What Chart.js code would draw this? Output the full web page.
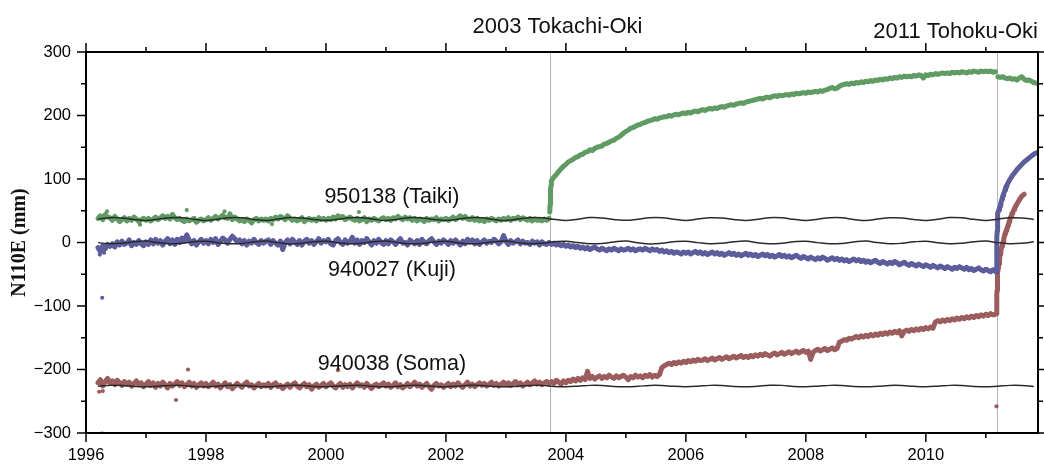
<!DOCTYPE html>
<html>
<head>
<meta charset="utf-8">
<script src="https://cdn.jsdelivr.net/npm/chart.js@4.4.1/dist/chart.umd.min.js"></script>
<style>
  html, body { margin: 0; padding: 0; background: #fff; }
  #wrap { width: 1044px; height: 464px; }
</style>
</head>
<body>
<div id="wrap"><canvas id="gps" width="1044" height="464"></canvas></div>
<script>
// GPS N110E component, decimal years, sampled every 0.04 yr
const step = 0.04;
const startA = 1996.20;   // first epoch
const startB = 2003.76;   // first epoch after Tokachi-Oki
const startC = 2011.20;   // first epoch after Tohoku-Oki

const quakeYears = [2003.73, 2011.18];
const quakeNames = ['2003 Tokachi-Oki', '2011 Tohoku-Oki'];
const stationNames = ['950138 (Taiki)', '940027 (Kuji)', '940038 (Soma)'];
const stationColors = ['#619b64', '#5d5d9c', '#9b5d5d'];

// ---- 950138 Taiki ----
const taikiA = [
  38,42,36,44,40,39,35,41,37,33,36,39,34,38,35,40,37,33,36,38,
  35,38,34,37,40,36,39,42,38,41,37,44,39,36,38,35,33,37,34,36,38,32,35,37,34,
  36,39,35,38,41,37,40,43,39,38,45,36,40,37,34,36,33,37,35,31,36,38,34,37,35,
  37,34,38,36,40,37,41,39,36,42,38,35,37,34,36,39,33,36,38,35,37,34,39,36,38,
  35,38,36,40,37,42,39,41,36,38,40,37,35,38,34,36,39,33,37,35,38,36,34,37,39,
  36,38,35,39,37,41,38,36,40,37,39,35,38,34,37,36,33,38,35,37,36,39,34,37,36,
  38,35,37,40,36,39,42,38,41,37,36,39,35,38,34,36,33,37,35,38,36,34,37,35,38,
  36,39,35,38,37,40,36,39,37,35,38,34,37,35,36,34,37,35,38
];
const taikiB = [
  97,103,107,112,116,120,
  123,127,129,131,134,135,138,139,142,143,146,145,148,150,151,152,155,156,158,160,161,164,166,169,172,
  175,177,180,181,183,185,186,188,189,191,192,193,195,194,196,197,198,198,200,199,201,202,201,203,204,
  203,205,204,206,207,206,208,209,208,210,211,210,212,211,213,214,213,215,216,217,216,218,219,220,219,
  221,222,223,224,225,226,227,226,228,229,228,230,231,230,232,231,232,233,232,234,233,235,234,235,236,
  235,237,236,237,238,237,239,238,240,241,243,244,242,243,246,248,249,250,249,251,250,252,251,253,252,
  254,253,255,254,256,255,257,256,258,257,259,258,260,259,261,260,262,261,262,261,263,262,264,263,259,
  264,263,265,264,266,265,266,267,266,267,266,268,267,268,267,269,268,267,269,268,270,269,268,270,269,
  270,269,270,268,269
];
const taikiC = [261,260,261,259,258,259,257,258,256,259,261,257,255,256,254,252,251];
const taikiJumpYears = [2003.732,2003.736,2003.740,2003.744,2003.748,2003.752,2003.756];
const taikiJumpVals = [48,60,70,78,85,90,94];
const taikiOutlierYears = [1996.35,1997.68,1998.31,2000.55,1996.90,1999.10];
const taikiOutlierVals = [49,51,49,48,28,29];

// ---- 940027 Kuji ----
const kujiA = [
  -8,-14,-5,-10,-3,-6,-2,-7,1,-4,2,-3,-1,4,-5,0,-3,3,-2,-5,
  1,-3,4,-2,5,-1,3,-4,2,6,-2,4,-3,5,0,7,2,12,4,-2,3,-4,1,5,-1,
  3,-2,5,0,6,-3,2,7,4,-1,5,10,6,1,4,-2,3,-4,2,-1,5,0,-3,3,-1,
  2,4,-3,3,-1,-4,2,-11,0,4,-2,5,1,-3,3,-4,2,5,-1,3,-3,1,6,-1,3,
  1,5,-2,-4,3,6,0,-3,4,-1,2,8,-1,4,-3,3,0,6,1,-4,3,-1,5,0,-3,
  3,-2,4,1,-3,2,6,-1,0,-4,4,1,-2,3,-3,5,0,-2,3,6,1,-3,2,-1,4,
  1,-3,3,-1,4,0,-4,2,-2,5,1,4,-2,3,-3,1,4,-1,2,0,5,2,-2,1,11,
  2,-3,3,-1,1,4,-2,2,-1,0,-3,2,-1,1,-4,1,-2,-3,0
];
const kujiB = [
  -3,-1,-4,-2,-5,-3,
  -6,-4,-7,-5,-8,-6,-9,-7,-10,-8,-11,-9,-7,-10,-12,-9,-11,-13,-10,-12,-9,-11,-13,-10,-12,
  -11,-9,-12,-10,-13,-11,-10,-12,-9,-11,-13,-10,-12,-11,-14,-12,-15,-13,-16,-14,-17,-15,-16,-18,-15,
  -17,-15,-18,-16,-14,-17,-15,-18,-16,-19,-17,-15,-18,-16,-19,-17,-20,-18,-16,-19,-17,-20,-18,-21,-19,
  -17,-20,-18,-21,-19,-22,-20,-18,-21,-19,-22,-20,-23,-21,-19,-22,-20,-23,-21,-24,-22,-20,-23,-25,-22,
  -24,-26,-23,-25,-27,-24,-26,-23,-25,-28,-26,-24,-27,-25,-28,-26,-29,-27,-30,-28,-26,-29,-27,-30,-28,
  -31,-29,-32,-30,-28,-31,-33,-30,-32,-34,-31,-33,-30,-32,-35,-33,-31,-34,-36,-33,-35,-37,-34,-36,-38,
  -35,-37,-39,-36,-38,-40,-37,-39,-41,-38,-40,-42,-39,-41,-38,-40,-42,-39,-43,-41,-44,-42,-40,-43,-45,
  -42,-44,-46,-43,-45
];
const kujiC = [46,58,72,83,92,99,105,110,115,119,123,127,130,133,136,139,141];
const kujiJumpYears = [2011.178,2011.180,2011.183,2011.186,2011.190,2011.193,2011.197,
  2011.21,2011.22,2011.23,2011.25,2011.26,2011.27,2011.29,2011.30,2011.31,2011.33,2011.34,2011.35];
const kujiJumpVals = [-47,-16,-2,8,18,27,36, 49,52,55,62,65,69,75,78,80,86,88,90];
const kujiOutlierYears = [1996.27,1996.23,1996.30];
const kujiOutlierVals = [-87,-19,-16];

// ---- 940038 Soma ----
const somaA = [
  -221,-216,-226,-219,-214,-222,-218,-224,-217,-221,-225,-219,-223,-220,-226,-222,-218,-224,-221,-227,
  -223,-219,-225,-221,-228,-222,-226,-220,-224,-229,-222,-226,-223,-219,-225,-221,-227,-224,-220,-226,-222,-228,-224,-221,-226,
  -222,-227,-224,-220,-226,-223,-229,-225,-221,-227,-224,-230,-226,-222,-225,-228,-223,-220,-226,-224,-229,-225,-222,-227,-224,
  -226,-222,-228,-224,-221,-227,-225,-230,-226,-223,-228,-224,-221,-226,-229,-225,-222,-227,-224,-231,-226,-223,-228,-225,-222,
  -227,-224,-221,-226,-229,-225,-222,-228,-224,-227,-223,-229,-225,-221,-226,-224,-228,-222,-226,-230,-225,-223,-227,-224,-221,
  -226,-223,-228,-225,-221,-227,-224,-229,-226,-222,-227,-224,-220,-226,-223,-228,-225,-222,-227,-231,-225,-222,-226,-224,-228,
  -225,-222,-227,-223,-226,-221,-225,-228,-224,-220,-226,-223,-227,-224,-221,-225,-222,-226,-223,-220,-225,-222,-226,-223,-220,
  -224,-221,-225,-222,-219,-224,-221,-226,-223,-220,-224,-221,-218,-223,-220,-224,-221,-219,-222
];
const somaB = [
  -219,-222,-217,-220,-223,-218,
  -221,-217,-219,-215,-218,-214,-217,-213,-216,-203,-214,-211,-215,-212,-210,-214,-211,-213,-209,-212,-214,-210,-213,-211,-209,
  -212,-216,-211,-213,-209,-212,-210,-213,-209,-211,-208,-212,-209,-211,-208,-197,-194,-192,-190,-192,-189,-191,-188,-190,-187,
  -189,-186,-188,-185,-187,-184,-186,-185,-183,-186,-184,-182,-185,-183,-181,-184,-182,-180,-183,-181,-179,-182,-180,-178,-181,
  -179,-181,-178,-180,-177,-179,-176,-178,-175,-177,-179,-176,-174,-177,-175,-173,-176,-174,-172,-175,-173,-171,-174,-172,-170,
  -173,-171,-184,-173,-170,-168,-171,-169,-167,-170,-168,-166,-169,-167,-157,-155,-153,-154,-151,-152,-150,-148,-150,-147,-149,
  -146,-148,-145,-147,-144,-146,-143,-145,-142,-144,-141,-143,-140,-142,-139,-147,-140,-138,-140,-137,-139,-136,-138,-135,-137,
  -134,-136,-133,-135,-125,-123,-125,-122,-124,-121,-123,-120,-122,-119,-121,-118,-120,-117,-119,-116,-118,-115,-117,-114,-116,
  -113,-115,-112,-114,-113
];
const somaC = [-48,-18,-2,14,24,36,46,54,61,67,73,76];
const somaJumpYears = [2011.178,2011.180,2011.182,2011.184,2011.186,2011.188,2011.190,2011.193,2011.197,
  2011.21,2011.22,2011.23,2011.25,2011.26,2011.27,2011.29,2011.30,2011.31,2011.33,2011.34,2011.35,
  2011.37,2011.38,2011.39,2011.41,2011.42,2011.43,2011.45,2011.46,2011.47];
const somaJumpVals = [-112,-105,-98,-90,-82,-75,-68,-60,-53,
  -40,-33,-26,-13,-9,-5,2,6,10,16,19,21,
  27,30,33,39,41,44,48,50,52];
const somaOutlierYears = [2011.178,1996.22,1996.28,1996.27,1997.50,1997.70,2000.20];
const somaOutlierVals = [-258,-235,-234,-301,-248,-200,-201];

// ---- fitted models (black lines), every 0.2 yr from 1996.2 ----
const modelStart = 1996.2;
const modelStep = 0.2;
const taikiModel = [
  36.9,39.1,38.7,36.3,34.8, 36.7,38.9,38.9,36.5,34.6, 36.8,39.0,38.8,36.4,34.7,
  36.9,39.2,38.6,36.2,34.9, 36.6,38.8,39.0,36.6,34.5, 36.8,39.1,38.7,36.4,34.8,
  36.7,38.9,38.9,36.3,34.6, 36.9,39.0,38.8,36.5,34.7, 36.8,39.2,38.7,36.4,34.9,
  36.6,38.9,38.9,36.6,34.6, 36.9,39.0,38.6,36.3,34.8, 36.7,39.1,38.8,36.5,34.7,
  36.8,38.9,38.9,36.4,34.6, 36.9,39.0,38.7,36.2,34.8, 36.7,39.2,38.8,36.5,34.7,
  36.8,39.0,38.7,36.4
];
const kujiModel = [
  -0.2,-2.0,-1.3,1.0,2.2, -0.1,-2.1,-1.2,1.1,2.0, -0.3,-1.9,-1.4,0.9,2.3,
  -0.2,-2.2,-1.1,1.0,2.1, -0.4,-2.0,-1.3,1.2,2.2, -0.1,-1.8,-1.4,0.8,2.0,
  -0.3,-2.1,-1.2,1.1,2.3, -0.2,-2.0,-1.3,1.0,2.1, -0.1,-1.9,-1.5,0.9,2.2,
  -0.3,-2.2,-1.2,1.1,2.0, -0.2,-2.0,-1.3,1.0,2.3, -0.4,-1.9,-1.1,1.2,2.1,
  -0.2,-2.1,-1.4,0.9,2.2, -0.1,-2.0,-1.3,1.0,2.0, -0.3,-1.8,-1.2,1.1,2.2,
  -0.2,-2.0,-1.3,1.0
];
const somaModel = [
  -226.3,-225.0,-225.1,-226.6,-227.2, -226.2,-225.1,-225.0,-226.7,-227.1, -226.4,-224.9,-225.2,-226.5,-227.3,
  -226.3,-225.0,-225.1,-226.6,-227.0, -226.2,-225.2,-225.0,-226.7,-227.2, -226.4,-225.0,-225.1,-226.5,-227.1,
  -226.3,-224.9,-225.2,-226.6,-227.3, -226.2,-225.1,-225.0,-226.6,-227.1, -226.3,-225.0,-225.1,-226.7,-227.2,
  -226.4,-225.1,-225.2,-226.5,-227.0, -226.3,-225.0,-225.1,-226.6,-227.2, -226.2,-224.9,-225.0,-226.6,-227.1,
  -226.3,-225.0,-225.1,-226.7,-227.3, -226.4,-225.1,-225.2,-226.5,-227.1, -226.3,-225.0,-225.1,-226.6,-227.2,
  -226.2,-225.0,-225.1,-226.6
];

// label anchors (year, mm at text baseline)
const stationLabelYear = 2001.1;
const stationLabelMm = [62, -53.5, -200.5];

const seg = (start, vals, dt) => vals.map((v, i) => ({ x: +(start + i * dt).toFixed(3), y: v }));
const pairs = (yrs, vals) => yrs.map((t, i) => ({ x: t, y: vals[i] }));
const byYear = pts => pts.sort((p, q) => p.x - q.x);

// dense daily solutions drawn as a ragged band through the samples
const bandSet = (label, color, data) => ({
  label, data, showLine: true, borderColor: color, backgroundColor: color,
  borderWidth: 5, borderJoinStyle: 'round', borderCapStyle: 'round',
  pointRadius: 2, pointBorderWidth: 0, pointHoverRadius: 0, tension: 0, order: 2
});
const dotSet = (label, color, data) => ({
  label, data, backgroundColor: color, borderWidth: 0,
  pointRadius: 2.1, pointHoverRadius: 0, order: 2
});
const modelSet = (label, vals) => ({
  label, data: seg(modelStart, vals, modelStep), showLine: true,
  borderColor: '#2a2a2a', borderWidth: 1.5, pointRadius: 0, tension: 0.4, order: 1
});

const stationSets = (name, color, a, b, c, jy, jv, oy, ov, jumpAtTokachi) => {
  const bPts = seg(startB, b, step);
  const cPts = seg(startC, c, step);
  return [
    bandSet(name, color, seg(startA, a, step)),
    bandSet(name, color, jumpAtTokachi ? byYear(pairs(jy, jv).concat(bPts)) : bPts),
    bandSet(name, color, jumpAtTokachi ? cPts : byYear(pairs(jy, jv).concat(cPts))),
    dotSet(name, color, pairs(oy, ov))
  ];
};

const decor = {
  id: 'decor',
  beforeDatasetsDraw(chart) {
    const { ctx, chartArea: a, scales: { x } } = chart;
    ctx.save();
    ctx.strokeStyle = '#b4b4b4';
    ctx.lineWidth = 1;
    quakeYears.forEach(q => {
      const px = Math.round(x.getPixelForValue(q)) + 0.5;
      ctx.beginPath(); ctx.moveTo(px, a.top); ctx.lineTo(px, a.bottom); ctx.stroke();
    });
    ctx.restore();
  },
  afterDatasetsDraw(chart) {
    const { ctx, chartArea: a, scales: { x, y } } = chart;
    ctx.save();
    ctx.strokeStyle = '#000';
    ctx.lineWidth = 1.5;
    for (let yr = 1996; yr <= 2011; yr++) {
      const len = yr % 2 === 0 ? 9 : 5;
      const px = x.getPixelForValue(yr);
      ctx.beginPath();
      ctx.moveTo(px, a.bottom); ctx.lineTo(px, a.bottom + len);
      ctx.moveTo(px, a.top); ctx.lineTo(px, a.top - len);
      ctx.stroke();
    }
    for (let v = -300; v <= 300; v += 50) {
      const len = v % 100 === 0 ? 9 : 5;
      const py = y.getPixelForValue(v);
      ctx.beginPath();
      ctx.moveTo(a.left, py); ctx.lineTo(a.left - len, py);
      ctx.moveTo(a.right, py); ctx.lineTo(a.right + len, py);
      ctx.stroke();
    }
    ctx.lineWidth = 2;
    ctx.strokeRect(a.left, a.top, a.right - a.left, a.bottom - a.top);

    ctx.fillStyle = '#111';
    ctx.textBaseline = 'alphabetic';
    ctx.font = '22px "Liberation Sans", Arial, sans-serif';
    ctx.textAlign = 'center';
    ctx.fillText(quakeNames[0], x.getPixelForValue(quakeYears[0] + 0.13), 33);
    ctx.textAlign = 'right';
    ctx.fillText(quakeNames[1], a.right, 38);

    ctx.font = '21.5px "Liberation Sans", Arial, sans-serif';
    ctx.textAlign = 'center';
    stationNames.forEach((s, i) => {
      ctx.fillText(s, x.getPixelForValue(stationLabelYear), y.getPixelForValue(stationLabelMm[i]));
    });

    ctx.translate(19.5, (a.top + a.bottom) / 2);
    ctx.rotate(-Math.PI / 2);
    ctx.font = 'bold 20px "Liberation Serif", "Times New Roman", serif';
    ctx.textBaseline = 'middle';
    ctx.fillText('N110E (mm)', 0, 0);
    ctx.restore();
  }
};

new Chart(document.getElementById('gps'), {
  type: 'scatter',
  data: {
    datasets: [
      ...stationSets(stationNames[0], stationColors[0], taikiA, taikiB, taikiC,
        taikiJumpYears, taikiJumpVals, taikiOutlierYears, taikiOutlierVals, true),
      ...stationSets(stationNames[1], stationColors[1], kujiA, kujiB, kujiC,
        kujiJumpYears, kujiJumpVals, kujiOutlierYears, kujiOutlierVals, false),
      ...stationSets(stationNames[2], stationColors[2], somaA, somaB, somaC,
        somaJumpYears, somaJumpVals, somaOutlierYears, somaOutlierVals, false),
      modelSet('Taiki model', taikiModel),
      modelSet('Kuji model', kujiModel),
      modelSet('Soma model', somaModel)
    ]
  },
  options: {
    responsive: false,
    devicePixelRatio: 1,
    animation: false,
    layout: { padding: { top: 52, right: 6, left: 0, bottom: 0 } },
    plugins: { legend: { display: false }, tooltip: { enabled: false } },
    scales: {
      x: {
        type: 'linear', min: 1996, max: 2011.87,
        grid: { display: false, drawTicks: false },
        border: { display: false },
        ticks: {
          stepSize: 2, includeBounds: false, autoSkip: false, maxRotation: 0,
          padding: 13, color: '#000',
          font: { family: '"Liberation Sans", Arial, sans-serif', size: 16.5 },
          callback: v => String(v)
        },
        afterFit: s => { s.height = 31; }
      },
      y: {
        min: -300, max: 300,
        grid: { display: false, drawTicks: false },
        border: { display: false },
        ticks: {
          stepSize: 100, autoSkip: false, padding: 15, color: '#000',
          font: { family: '"Liberation Sans", Arial, sans-serif', size: 16.5 },
          callback: v => (v < 0 ? '\u2212' + Math.abs(v) : String(v))
        },
        afterFit: s => { s.width = 86; }
      }
    }
  },
  plugins: [decor]
});
</script>
</body>
</html>
